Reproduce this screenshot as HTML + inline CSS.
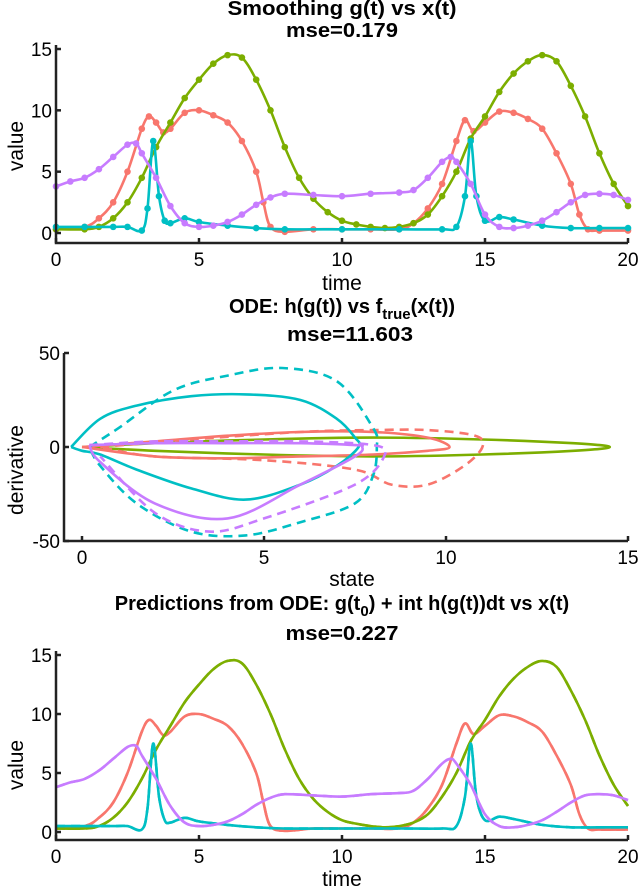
<!DOCTYPE html>
<html><head><meta charset="utf-8"><style>
body{margin:0;background:#fff}
svg{display:block}
text{font-family:"Liberation Sans",sans-serif;fill:#000}
.tk{font-size:19px}
.lb{font-size:21px}
.tt{font-size:20px;font-weight:bold}
</style></head><body>
<svg id="c" width="640" height="887">
<g id="p1"></g>
<g id="p2"></g>
<g id="p3"></g>
<text class="tt" x="342" y="15" text-anchor="middle" textLength="229" lengthAdjust="spacingAndGlyphs">Smoothing g(t) vs x(t)</text>
<text class="tt" x="342" y="37" text-anchor="middle" textLength="112" lengthAdjust="spacingAndGlyphs">mse=0.179</text>
<text class="lb" x="342" y="290" text-anchor="middle">time</text>
<text class="lb" transform="translate(23,146) rotate(-90)" text-anchor="middle">value</text>
<text class="tt" x="342" y="313" text-anchor="middle">ODE: h(g(t)) vs f<tspan font-size="15" dy="6">true</tspan><tspan dy="-6">(x(t))</tspan></text>
<text class="tt" x="350" y="341" text-anchor="middle" textLength="126" lengthAdjust="spacingAndGlyphs">mse=11.603</text>
<text class="lb" x="352" y="586" text-anchor="middle">state</text>
<text class="lb" transform="translate(23,470) rotate(-90)" text-anchor="middle">derivative</text>
<text class="tt" x="342" y="610" text-anchor="middle">Predictions from ODE: g(t<tspan font-size="15" dy="6">0</tspan><tspan dy="-6">) + int h(g(t))dt vs x(t)</tspan></text>
<text class="tt" x="342" y="640" text-anchor="middle" textLength="113" lengthAdjust="spacingAndGlyphs">mse=0.227</text>
<text class="lb" x="342" y="886" text-anchor="middle">time</text>
<text class="lb" transform="translate(23,765) rotate(-90)" text-anchor="middle">value</text>
</svg>
<script>
const NS='http://www.w3.org/2000/svg';
const redT=[0,1,1.5,2,2.5,3,3.25,3.5,3.75,4,4.5,5,5.5,6,6.5,7,7.25,7.5,8,9,10,11,12,12.5,13,13.5,14,14.3,14.6,15,15.5,16,16.5,17,17.5,18,18.3,18.6,19,20];
const redV=[0.3,0.5,1.2,2.5,5,8.5,9.5,9,8.2,8.5,9.8,10,9.6,9,7.5,5,2.5,0.5,0.1,0.3,0.3,0.3,0.3,0.8,2,4,7.5,9.2,8.3,9,9.9,9.8,9.3,8.5,6.5,4,1.5,0.3,0.2,0.2];
const greenT=[0,1,1.5,2,2.5,3,3.5,4,4.5,5,5.5,6,6.5,7,7.5,8,8.5,9,9.5,10,10.5,11,11.5,12,12.5,13,13.5,14,14.5,15,15.5,16,16.5,17,17.5,18,18.5,19,19.5,20];
const greenV=[0.3,0.3,0.5,1.2,2.5,4.5,7,9,11,12.5,13.8,14.5,14.3,12.5,10,7,4.5,2.8,1.7,1,0.7,0.5,0.4,0.5,0.8,1.5,3,5,7.7,9.5,11.5,13,14,14.5,14,12,9.5,6.5,4,2.2];
const cyanT=[0,1,2,2.5,3,3.2,3.4,3.6,3.8,4,4.5,5,6,7,8,10,12,13.5,14,14.3,14.5,14.7,15,15.5,16,17,18,19,20];
const cyanV=[0.5,0.5,0.5,0.5,0.2,2,7.5,3,1,0.8,1.2,0.9,0.6,0.4,0.3,0.3,0.3,0.3,0.5,3,7.5,3,1,1.3,1.1,0.6,0.4,0.4,0.4];
const purpleT=[0,0.5,1,1.5,2,2.5,2.8,3,3.5,4,4.5,5,5.5,6,6.5,7,7.5,8,9,10,11,12,12.5,13,13.5,13.8,14,14.5,15,15.5,16,16.5,17,17.5,18,18.5,19,19.5,20];
const purpleV=[3.8,4.2,4.5,5.2,6.2,7.2,7.3,6.5,4.5,2.2,0.8,0.5,0.6,0.9,1.5,2.3,2.9,3.2,3.1,3,3.2,3.3,3.5,4.5,5.8,6.2,5.8,4,1.5,0.5,0.4,0.6,1,1.7,2.5,3.1,3.2,3.1,2.7];
const cyanSolidS=[-0.3,0.5,1.5,3,4.5,6,7,7.5,7.6,7,6,4.5,3,1.5,0.5,0,-0.3];
const cyanSolidD=[0,15,22,27,28,25,15,5,0,-10,-20,-28,-22,-12,-4,-2,0];
const cyanDashS=[0.2,1,2.5,4,5.5,7,8,8.1,8,7.5,6,4.5,3,1.5,0.5,0.2];
const cyanDashD=[0,10,30,38,42,35,10,0,-15,-30,-40,-47,-45,-30,-10,0];
const greenLoopS=[0,2,5,8,11,13.5,14.5,13.5,11,8,5,2,0];
const greenLoopD=[0,2,4,5,4,2,0,-2,-4,-5,-4,-2,0];
const redLoopS=[0,2,4,6,8,9.5,10.1,9.5,8,6,4,2,0];
const redLoopD=[0,3,6,8,8,5,0,-2,-4,-5,-6,-5,0];
const redDashS=[0.5,3,6,8,9.5,10.8,11,10.5,9.5,8.5,7.5,5,2,0.5];
const redDashD=[0,4,8,9,9,6,0,-10,-20,-20,-12,-7,-5,0];
const purpleLoopS=[0.2,2,4,6,7.5,7.7,7.5,6,4,2,0.5,0.2];
const purpleLoopD=[1,2,2,2,1,0,-5,-20,-38,-30,-8,1];
const purpleDashS=[0.2,2,4,6,8,8.3,7.5,5,3.5,2,0.5];
const purpleDashD=[1,3,3,3,1,-5,-20,-38,-45,-35,-5];
const tTicks=[0,5,10,15,20];
const vTicks=[0,5,10,15];
const sTicks=[0,5,10,15];
const dTicks=[-50,0,50];
const COL={red:'#F8766D',green:'#7CAE00',cyan:'#00BFC4',purple:'#C77CFF'};

function mk(tag,parent,attrs){const e=document.createElementNS(NS,tag);for(const k in attrs)e.setAttribute(k,attrs[k]);parent.appendChild(e);return e;}
function scale(d0,d1,r0,r1){return v=>r0+(v-d0)*(r1-r0)/(d1-d0);}
function smooth(pts){let d='M'+pts[0][0].toFixed(1)+','+pts[0][1].toFixed(1);
 for(let i=0;i<pts.length-1;i++){const p0=pts[Math.max(0,i-1)],p1=pts[i],p2=pts[i+1],p3=pts[Math.min(pts.length-1,i+2)];
 const c1=[p1[0]+(p2[0]-p0[0])/6,p1[1]+(p2[1]-p0[1])/6],c2=[p2[0]-(p3[0]-p1[0])/6,p2[1]-(p3[1]-p1[1])/6];
 d+='C'+c1.map(v=>v.toFixed(1))+' '+c2.map(v=>v.toFixed(1))+' '+p2.map(v=>v.toFixed(1));}return d;}
function axes(g,x,y,L,R,T,B,xt,yt,name){
 const ax=mk('path',g,{d:`M${L},${T}V${B}H${R}`,stroke:'#222',fill:'none','stroke-width':2.5});
 
 
 xt.forEach(v=>{const l=mk('line',g,{x1:x(v),x2:x(v),y1:B,y2:B-5,stroke:'#222','stroke-width':2.5});
  
  
  const t=mk('text',g,{x:x(v),y:B+23,'text-anchor':'middle',class:'tk'});t.textContent=v;
  
  });
 yt.forEach(v=>{const l=mk('line',g,{x1:L,x2:L+5,y1:y(v),y2:y(v),stroke:'#222','stroke-width':2.5});
  
  
  const t=mk('text',g,{x:L-4,y:y(v)+7,'text-anchor':'end',class:'tk'});t.textContent=v;
  
  });
}
function line(g,xs,ys,x,y,col,dash,name){const p=mk('path',g,{d:smooth(xs.map((v,i)=>[x(v),y(ys[i])])),fill:'none',stroke:col,'stroke-width':2.6,'stroke-dasharray':dash?'9,6':'none'});
 
 }
function dots(g,xs,ys,x,y,col,name){xs.forEach((v,i)=>{const c=mk('circle',g,{cx:x(v),cy:y(ys[i]),r:3.3,fill:col});
 
 });}

const series=[['red',redT,redV],['green',greenT,greenV],['cyan',cyanT,cyanV],['purple',purpleT,purpleV]];
{const g=document.getElementById('p1');const x=scale(0,20,56,628),y=scale(0,15,233,49);
 series.forEach(([n,t,v])=>{line(g,t,v,x,y,COL[n],false,n+'-smooth-line');dots(g,t,v,x,y,COL[n],n+'-observation');});
 axes(g,x,y,56,628,45,243,tTicks,vTicks,'panel1');}
{const g=document.getElementById('p2');const x=scale(0,5,82,264),y=scale(0,50,447,353);
 line(g,greenLoopS,greenLoopD,x,y,COL.green,false,'green-h-loop');
 line(g,redLoopS,redLoopD,x,y,COL.red,false,'red-h-loop');
 line(g,redDashS,redDashD,x,y,COL.red,true,'red-ftrue-loop');
 line(g,cyanSolidS,cyanSolidD,x,y,COL.cyan,false,'cyan-h-loop');
 line(g,cyanDashS,cyanDashD,x,y,COL.cyan,true,'cyan-ftrue-loop');
 line(g,purpleLoopS,purpleLoopD,x,y,COL.purple,false,'purple-h-loop');
 line(g,purpleDashS,purpleDashD,x,y,COL.purple,true,'purple-ftrue-loop');
 axes(g,x,y,64,628,353,541,sTicks,dTicks,'panel2');}
{const g=document.getElementById('p3');const x=scale(0,20,56,628),y=scale(0,15,832,655);
 series.forEach(([n,t,v])=>{line(g,t,v,x,y,COL[n],true,n+'-true-dashed');line(g,t,v,x,y,COL[n],false,n+'-prediction-line');});
 axes(g,x,y,56,628,651,840,tTicks,vTicks,'panel3');}
</script>
</body></html>
